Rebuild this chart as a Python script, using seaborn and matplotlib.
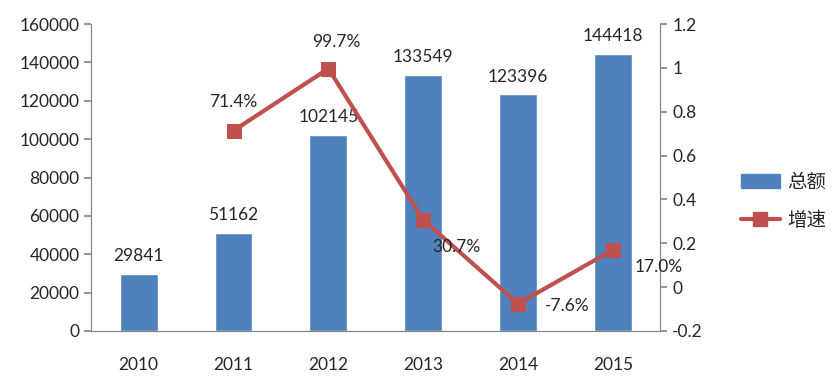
import numpy as np
import pandas as pd
import matplotlib.pyplot as plt
import seaborn as sns
from matplotlib.lines import Line2D
from matplotlib.patches import Patch

# === DATA ===
years = ["2010", "2011", "2012", "2013", "2014", "2015"]
totals = [29841, 51162, 102145, 133549, 123396, 144418]
growth = [None, 0.714, 0.997, 0.307, -0.076, 0.170]
growth_labels = ["", "71.4%", "99.7%", "30.7%", "-7.6%", "17.0%"]

BLUE = "#4f81bd"
RED = "#c0504d"
GRAY = "#868686"

sns.set_theme(style="white")
plt.rcParams['font.family'] = ['Lato', 'Noto Sans CJK SC', 'DejaVu Sans']
FS = 12.5

df = pd.DataFrame({"year": years, "total": totals})

fig = plt.figure(figsize=(8.37, 3.83), dpi=100)
ax = fig.add_axes([0.109, 0.136, 0.68, 0.801])

sns.barplot(data=df, x="year", y="total", color=BLUE, width=0.4,
            saturation=1, ax=ax)
ax.set_xlim(0, 6)
for p in ax.patches:
    p.set_x(p.get_x() + 0.5)
ax.set_ylim(0, 160000)
ax.set_yticks(np.arange(0, 160001, 20000))
ax.set_xticks(np.arange(0.5, 6, 1))
ax.set_xticklabels(years)
ax.set_xlabel("")
ax.set_ylabel("")

# category boundary ticks
ax.set_xticks(np.arange(0, 7, 1), minor=True)
ax.tick_params(axis="x", which="major", length=0, pad=19, labelsize=FS)
ax.tick_params(axis="x", which="minor", length=5, color=GRAY, direction="out")
ax.tick_params(axis="y", length=5, color=GRAY, direction="out", labelsize=FS, left=True)

for i, v in enumerate(totals):
    ax.text(i + 0.5, v + 5000, str(v), ha="center", va="bottom", fontsize=FS)

ax2 = ax.twinx()
xs = [i + 0.5 for i, g in enumerate(growth) if g is not None]
ys = [g for g in growth if g is not None]
sns.lineplot(x=xs, y=ys, color=RED, linewidth=3, marker="s", markersize=10,
             markeredgecolor=RED, ax=ax2)
ax2.set_ylim(-0.2, 1.2)
ax2.set_yticks(np.arange(-0.2, 1.21, 0.2))
ax2.set_yticklabels(["-0.2", "0", "0.2", "0.4", "0.6", "0.8", "1", "1.2"])
ax2.tick_params(axis="y", length=5, color=GRAY, direction="out", labelsize=FS, right=True)

offsets = {1: (0, 0.13, "center"), 2: (0.08, 0.12, "center"), 3: (0.1, -0.125, "left"),
           4: (0.28, -0.01, "left"), 5: (0.23, -0.08, "left")}
for i, (dx, dy, ha) in offsets.items():
    ax2.text(i + 0.5 + dx, growth[i] + dy, growth_labels[i], ha=ha, va="center", fontsize=FS)

for a in (ax, ax2):
    a.spines["top"].set_visible(False)
    for s in ("left", "right", "bottom"):
        a.spines[s].set_color(GRAY)
        a.spines[s].set_linewidth(0.8)

handles = [Patch(color=BLUE, label="总额"),
           Line2D([0], [0], color=RED, lw=3, marker="s", markersize=10, label="增速")]
fig.legend(handles=handles, loc="center left", bbox_to_anchor=(0.869, 0.475),
           frameon=False, fontsize=14, handlelength=2.0, handletextpad=0.4,
           labelspacing=1.0, borderpad=0.2)

fig.savefig("out.png", dpi=100)
